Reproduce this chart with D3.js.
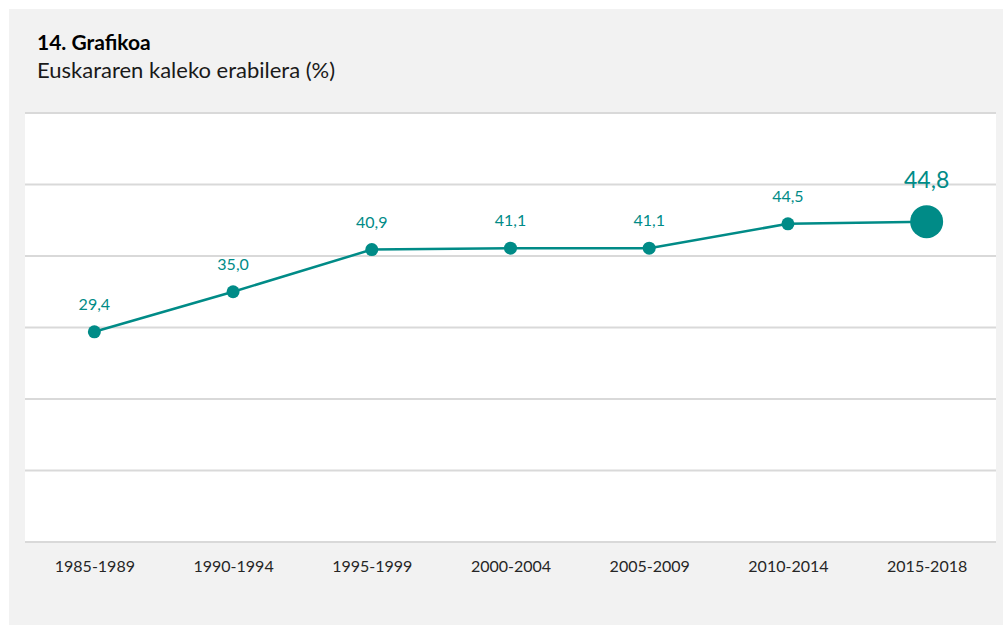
<!DOCTYPE html>
<html>
<head>
<meta charset="utf-8">
<script src="https://cdn.jsdelivr.net/npm/d3@7"></script>
<style>
  html, body { margin: 0; padding: 0; background: #ffffff; }
  svg { display: block; font-family: Lato, "Open Sans", sans-serif; }
</style>
</head>
<body>
<svg id="chart" width="1003" height="625"></svg>
<script>
// Street use of Basque, by survey period
const periods = ["1985-1989", "1990-1994", "1995-1999", "2000-2004", "2005-2009", "2010-2014", "2015-2018"];
const usage = [29.4, 35.0, 40.9, 41.1, 41.1, 44.5, 44.8];
const gridTicks = [0, 10, 20, 30, 40, 50, 60];

const teal = "#008b87";
const gridColor = "#d9d9d9";

const svg = d3.select("#chart");

// Panel background
svg.append("rect").attr("x", 9).attr("y", 9).attr("width", 994).attr("height", 616).attr("fill", "#f2f2f2");

// Titles
svg.append("text").attr("x", 37).attr("y", 50)
  .attr("font-size", 21).attr("font-weight", 700).attr("fill", "#000")
  .text("14. Grafikoa");
svg.append("text").attr("x", 37).attr("y", 78)
  .attr("font-size", 22).attr("fill", "#1a1a1a")
  .text("Euskararen kaleko erabilera (%)");

const plot = { left: 25, right: 996, top: 113, bottom: 542 };

svg.append("rect").attr("x", plot.left).attr("y", plot.top)
  .attr("width", plot.right - plot.left).attr("height", plot.bottom - plot.top)
  .attr("fill", "#ffffff");

const x = d3.scalePoint().domain(periods).range([plot.left, plot.right]).padding(0.5);
const y = d3.scaleLinear().domain([0, 60]).range([plot.bottom, plot.top]);

// Horizontal gridlines
svg.append("g").selectAll("line").data(gridTicks).join("line")
  .attr("x1", plot.left).attr("x2", plot.right)
  .attr("y1", d => y(d)).attr("y2", d => y(d))
  .attr("stroke", gridColor).attr("stroke-width", 2);

// Category axis
const xAxis = svg.append("g")
  .attr("transform", `translate(0,${plot.bottom})`)
  .call(d3.axisBottom(x).tickSize(0).tickPadding(19));
xAxis.select(".domain").remove();
xAxis.selectAll("text").attr("font-size", 16).attr("fill", "#262626")
  .attr("font-family", "Lato, sans-serif");

// Line
const line = d3.line().x((d, i) => x(periods[i])).y(d => y(d));
svg.append("path").datum(usage)
  .attr("d", line).attr("fill", "none")
  .attr("stroke", teal).attr("stroke-width", 2.5);

const last = usage.length - 1;

// Markers
svg.append("g").selectAll("circle").data(usage).join("circle")
  .attr("cx", (d, i) => x(periods[i]))
  .attr("cy", d => y(d))
  .attr("r", (d, i) => i === last ? 16.5 : 6.5)
  .attr("fill", teal);

// Value labels
const fmt = v => d3.format(".1f")(v).replace(".", ",");
svg.append("g").selectAll("text").data(usage).join("text")
  .attr("x", (d, i) => x(periods[i]))
  .attr("y", (d, i) => i === last ? y(d) - 34 : y(d) - 22)
  .attr("text-anchor", "middle")
  .attr("font-size", (d, i) => i === last ? 23 : 16)
  .attr("fill", teal)
  .text(d => fmt(d));
</script>
</body>
</html>
